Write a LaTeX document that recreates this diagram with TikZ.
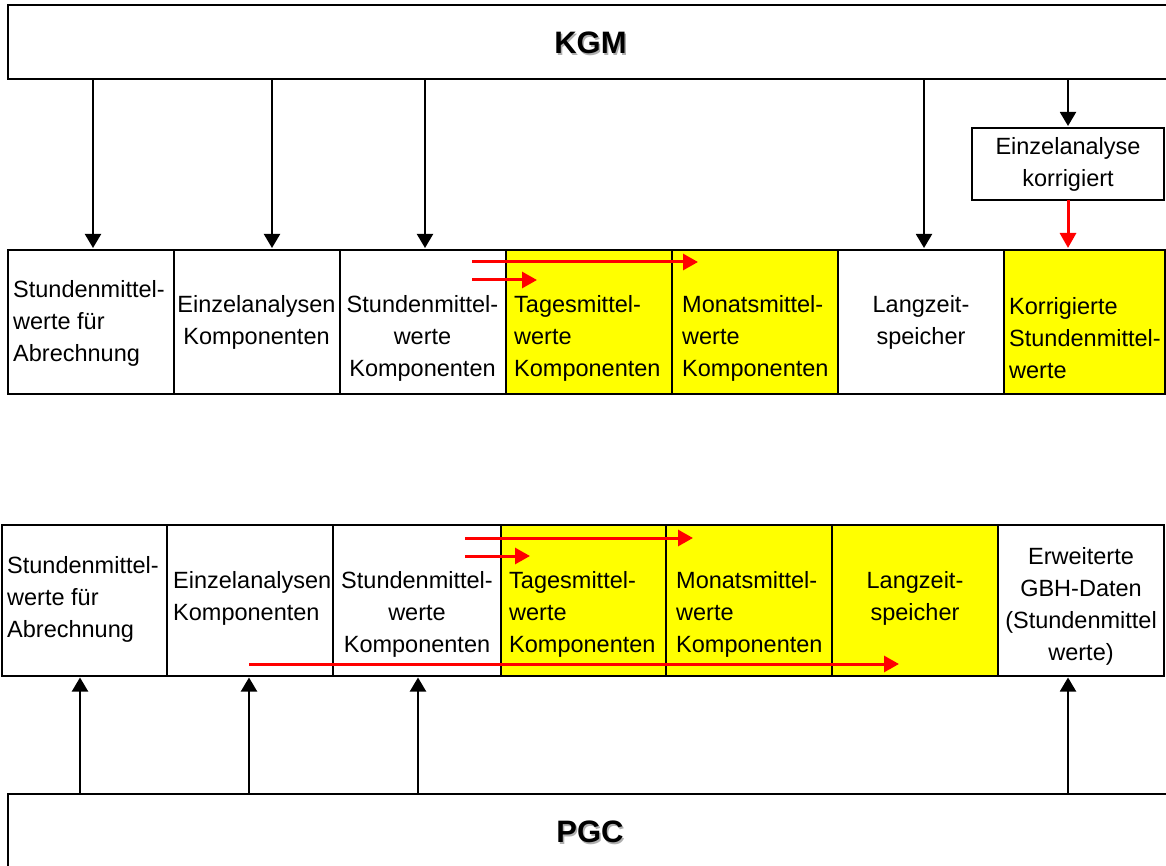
\documentclass[tikz,border=0pt]{standalone}
\usepackage{fontspec}
\setmainfont{Liberation Sans}
\usetikzlibrary{arrows.meta}
\definecolor{cellyellow}{RGB}{255,255,0}
\definecolor{flowred}{RGB}{255,0,0}
\definecolor{shade}{RGB}{175,175,175}

\begin{document}
\begin{tikzpicture}[x=1pt,y=-1pt,
  frame/.style={draw=black, line width=2pt, fill=white, inner sep=0pt, outer sep=0pt, anchor=north west},
  cell/.style={frame, minimum height=#1},
  hot/.style={cell=#1, fill=cellyellow},
  txt/.style={font=\fontsize{23.5}{32}\selectfont, inner sep=0pt, align=#1},
  title/.style={font=\fontsize{31}{36}\selectfont\bfseries, inner sep=0pt},
  down/.style={line width=2pt, -{Triangle[length=14pt,width=16pt]}, shorten >=2pt},
  flow/.style={draw=flowred, line width=3pt, -{Triangle[length=15pt,width=16pt]}}
]
\clip (0,0) rectangle (1166,866);
\fill[white] (0,0) rectangle (1166,866);

% source systems
\node[frame, minimum width=1180, minimum height=74] (kgm) at (8,5) {};
\node[title, text=shade] (kgmshadow) at (592,44.5) {KGM};
\node[title] (kgmlabel) at (590.5,43) {KGM};

\node[frame, minimum width=1180, minimum height=90] (pgc) at (8,794) {};
\node[title, text=shade] (pgcshadow) at (591.5,833.5) {PGC};
\node[title] (pgclabel) at (590,832) {PGC};

% KGM data row
\node[cell=144, minimum width=165.5] (c1) at (8,250) {};
\node[cell=144, minimum width=166]   (c2) at (173.5,250) {};
\node[cell=144, minimum width=166]   (c3) at (339.5,250) {};
\node[hot=144,  minimum width=166.5] (c4) at (505.5,250) {};
\node[hot=144,  minimum width=166]   (c5) at (672,250) {};
\node[cell=144, minimum width=166]   (c6) at (838,250) {};
\node[hot=144,  minimum width=161]   (c7) at (1004,250) {};

\node[txt=left, anchor=west] (t1) at (13,323) {Stundenmittel-\\werte für\\Abrechnung};
\node[txt=center] (t2) at (256.5,322) {Einzelanalysen\\Komponenten};
\node[txt=center] (t3) at (422.5,338) {Stundenmittel-\\werte\\Komponenten};
\node[txt=left, anchor=west] (t4) at (514,338) {Tagesmittel-\\werte\\Komponenten};
\node[txt=left, anchor=west] (t5) at (682,338) {Monatsmittel-\\werte\\Komponenten};
\node[txt=center] (t6) at (921,322) {Langzeit-\\speicher};
\node[txt=left, anchor=west] (t7) at (1009,338) {Korrigierte\\Stundenmittel-\\werte};

% corrected single analysis
\node[frame, anchor=center, minimum width=192, minimum height=72] (einz) at (1068,164) {};
\node[txt=center] (einzlabel) at (1068,164) {Einzelanalyse\\korrigiert};

% PGC data row
\node[cell=150.5, minimum width=165.5] (d1) at (1.5,525) {};
\node[cell=150.5, minimum width=166]   (d2) at (167,525) {};
\node[cell=150.5, minimum width=167.5] (d3) at (333,525) {};
\node[hot=150.5,  minimum width=165.5] (d4) at (500.5,525) {};
\node[hot=150.5,  minimum width=166]   (d5) at (666,525) {};
\node[hot=150.5,  minimum width=166]   (d6) at (832,525) {};
\node[cell=150.5, minimum width=166]   (d7) at (998,525) {};

\node[txt=left, anchor=west] (u1) at (7,599.5) {Stundenmittel-\\werte für\\Abrechnung};
\node[txt=left, anchor=west] (u2) at (173,598) {Einzelanalysen\\Komponenten};
\node[txt=center] (u3) at (417,614) {Stundenmittel-\\werte\\Komponenten};
\node[txt=left, anchor=west] (u4) at (509,614) {Tagesmittel-\\werte\\Komponenten};
\node[txt=left, anchor=west] (u5) at (676,614) {Monatsmittel-\\werte\\Komponenten};
\node[txt=center] (u6) at (915,598) {Langzeit-\\speicher};
\node[txt=center] (u7) at (1081,606.5) {Erweiterte\\GBH-Daten\\(Stundenmittel\\werte)};

% deliveries from KGM
\draw[down] (93,0 |- kgm.south)   -- (93,0 |- c1.north);
\draw[down] (272,0 |- kgm.south)  -- (272,0 |- c2.north);
\draw[down] (425,0 |- kgm.south)  -- (425,0 |- c3.north);
\draw[down] (924,0 |- kgm.south)  -- (924,0 |- c6.north);
\draw[down] (einz.north |- kgm.south) -- (einz.north);
\draw[flow, shorten >=2pt] (einz.south) -- (einz.south |- c7.north);

% deliveries from PGC
\draw[down] (80,0 |- pgc.north)   -- (80,0 |- d1.south);
\draw[down] (249,0 |- pgc.north)  -- (249,0 |- d2.south);
\draw[down] (418,0 |- pgc.north)  -- (418,0 |- d3.south);
\draw[down] (1068,0 |- pgc.north) -- (1068,0 |- d7.south);

% aggregation inside the KGM row
\coordinate (ka) at (472,262);
\coordinate (kb) at (698,262);
\coordinate (kc) at (472,280);
\coordinate (kd) at (537,280);
\draw[flow] (ka) -- (kb);
\draw[flow] (kc) -- (kd);

% aggregation inside the PGC row
\coordinate (pa) at (465,538);
\coordinate (pb) at (693,538);
\coordinate (pc) at (465,556);
\coordinate (pd) at (530,556);
\coordinate (pe) at (249,664);
\coordinate (pf) at (899,664);
\draw[flow] (pa) -- (pb);
\draw[flow] (pc) -- (pd);
\draw[flow] (pe) -- (pf);
\end{tikzpicture}
\end{document}
